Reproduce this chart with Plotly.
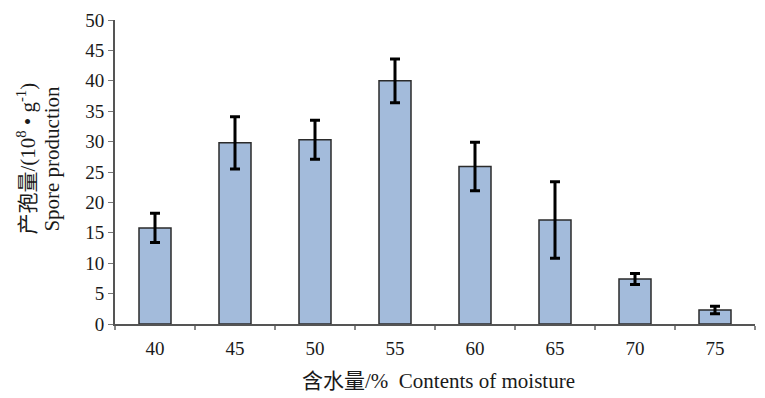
import plotly.graph_objects as go

categories = ["40", "45", "50", "55", "60", "65", "70", "75"]
values = [15.8, 29.8, 30.3, 40.0, 25.9, 17.1, 7.4, 2.3]
errors = [2.4, 4.3, 3.2, 3.6, 4.0, 6.3, 0.9, 0.6]
y_ticks = [0, 5, 10, 15, 20, 25, 30, 35, 40, 45, 50]

FONT = "Liberation Serif, Times New Roman, Noto Sans CJK SC, serif"

fig = go.Figure()
fig.add_trace(go.Bar(
    x=categories, y=values, width=0.4,
    marker=dict(color="#a3bbdb", line=dict(color="#2b2b2b", width=1.5)),
    error_y=dict(type="data", array=errors, visible=True,
                 color="black", thickness=3, width=5),
))

fig.update_layout(
    width=765, height=398,
    margin=dict(l=115, r=10, t=17, b=74),
    paper_bgcolor="white", plot_bgcolor="white",
    font=dict(family=FONT, size=19, color="#1a1a1a"),
    showlegend=False,
    xaxis=dict(
        type="category", showline=True, linecolor="#555", linewidth=2,
        ticks="outside", tickson="boundaries", ticklen=4, tickcolor="#888",
        tickwidth=2, showgrid=False, tickfont=dict(size=19),
        ticklabelstandoff=6,
    ),
    yaxis=dict(
        range=[0, 50], tickvals=y_ticks, showline=True, linecolor="#555",
        linewidth=2, ticks="outside", ticklen=5, tickcolor="#777",
        showgrid=False, zeroline=False, tickfont=dict(size=19),
    ),
    annotations=[
        dict(text="产孢量/(10<sup>8</sup> • g<sup>-1</sup>)",
             xref="paper", yref="paper", x=0, y=0.544, xshift=-88,
             xanchor="center", yanchor="middle",
             textangle=-90, showarrow=False, font=dict(size=21, family=FONT)),
        dict(text="Spore production",
             xref="paper", yref="paper", x=0, y=0.544, xshift=-63,
             xanchor="center", yanchor="middle",
             textangle=-90, showarrow=False, font=dict(size=21, family=FONT)),
        dict(text="含水量/%  Contents of moisture",
             xref="paper", yref="paper", x=0.506, y=0, yshift=-57,
             xanchor="center", yanchor="middle",
             showarrow=False, font=dict(size=21, family=FONT)),
    ],
)

fig.write_html("out.html")
